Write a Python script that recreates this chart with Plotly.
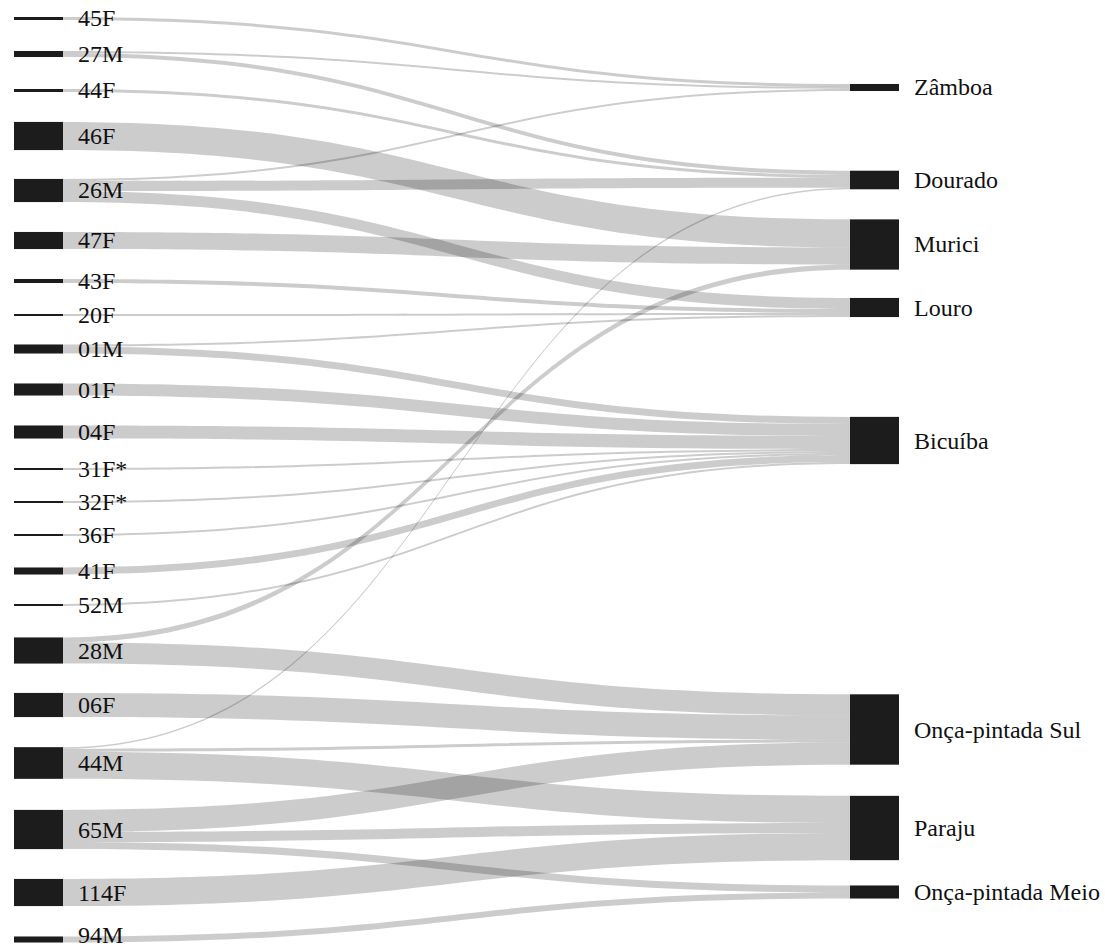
import plotly.graph_objects as go

W, H = 1105, 951

# ---- data ----
left_nodes = ["45F", "27M", "44F", "46F", "26M", "47F", "43F", "20F", "01M", "01F", "04F",
              "31F*", "32F*", "36F", "41F", "52M", "28M", "06F", "44M", "65M", "114F", "94M"]
right_nodes = ["Zâmboa", "Dourado", "Murici", "Louro", "Bicuíba",
               "Onça-pintada Sul", "Paraju", "Onça-pintada Meio"]

link_source = ["45F", "27M", "27M", "44F", "46F", "26M", "26M", "26M", "47F", "43F", "20F",
               "01M", "01M", "01F", "04F", "31F*", "32F*", "36F", "41F", "52M",
               "28M", "28M", "06F", "44M", "44M", "44M", "65M", "65M", "65M", "114F", "94M"]
link_target = ["Zâmboa", "Zâmboa", "Dourado", "Dourado", "Murici", "Zâmboa", "Dourado", "Louro",
               "Murici", "Louro", "Louro", "Louro", "Bicuíba", "Bicuíba", "Bicuíba", "Bicuíba",
               "Bicuíba", "Bicuíba", "Bicuíba", "Bicuíba", "Murici", "Onça-pintada Sul",
               "Onça-pintada Sul", "Dourado", "Onça-pintada Sul", "Paraju", "Onça-pintada Sul",
               "Paraju", "Onça-pintada Meio", "Paraju", "Onça-pintada Meio"]
link_value = [3, 2, 4, 3, 28, 2, 10, 11, 17, 4, 2, 2, 7, 12, 13, 2, 2, 2, 7, 2,
              5, 21, 24, 1.5, 3, 27, 22, 10, 7, 27, 6]

# ---- layout positions (node centres, pixels from top) ----
left_cy = [18.5, 54, 90.5, 136, 190.5, 240.5, 281, 315, 349, 389.5, 432, 469, 502, 535,
           571, 605, 650.5, 705, 763, 829.5, 892.5, 939.5]
right_cy = [87.5, 180, 244.5, 307.5, 440.5, 729.5, 828, 892]
left_cx, right_cx = 38.5, 874.5
thickness = 49
pad = 40
HD = 870  # pixel height of the sankey domain (controls node scale)

nodes = left_nodes + right_nodes
idx = {n: i for i, n in enumerate(nodes)}
node_x = [left_cx / W] * len(left_nodes) + [right_cx / W] * len(right_nodes)
node_y = [c / HD for c in left_cy] + [c / HD for c in right_cy]

fig = go.Figure(go.Sankey(
    arrangement="fixed",
    domain=dict(x=[0, 1], y=[1 - HD / H, 1]),
    node=dict(
        label=[""] * len(nodes),
        customdata=nodes,
        hovertemplate="%{customdata}<extra></extra>",
        x=node_x, y=node_y,
        pad=pad, thickness=thickness,
        color="#1c1c1c",
        line=dict(color="#1c1c1c", width=0),
    ),
    link=dict(
        source=[idx[s] for s in link_source],
        target=[idx[t] for t in link_target],
        value=link_value,
        color="rgba(0,0,0,0.2)",
    ),
))

font = dict(family="Liberation Serif", size=24, color="#111111")
annotations = []
for name, cy in zip(left_nodes, left_cy):
    ly = min(cy, 935)  # keep the bottom label inside the page
    annotations.append(dict(x=76 / W, y=1 - ly / H, xref="paper", yref="paper",
                            text=name, showarrow=False, xanchor="left", yanchor="middle",
                            font=font))
for name, cy in zip(right_nodes, right_cy):
    annotations.append(dict(x=912 / W, y=1 - cy / H, xref="paper", yref="paper",
                            text=name, showarrow=False, xanchor="left", yanchor="middle",
                            font=font))

fig.update_layout(
    width=W, height=H,
    margin=dict(l=0, r=0, t=0, b=0),
    paper_bgcolor="white", plot_bgcolor="white",
    annotations=annotations,
)

fig.write_html("out.html")
